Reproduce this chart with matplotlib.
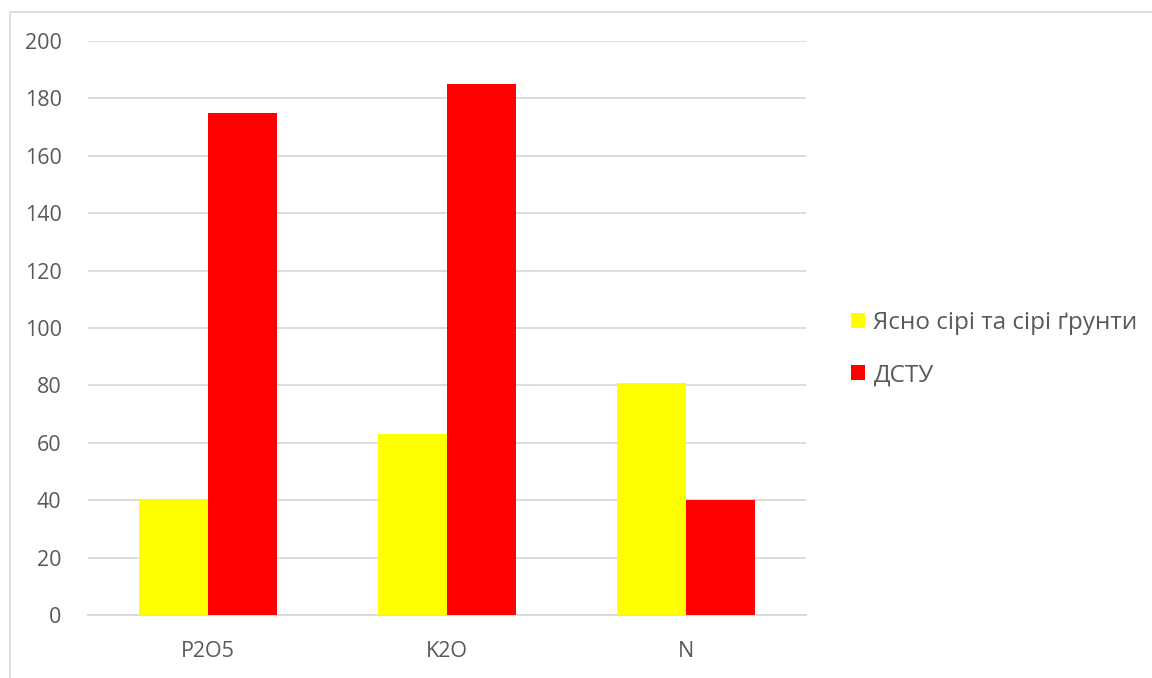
import matplotlib

matplotlib.use("Agg")
import matplotlib.pyplot as plt
import numpy as np
from matplotlib.lines import Line2D

plt.rcParams["font.family"] = ["Open Sans", "DejaVu Sans"]

categories = ["P2O5", "K2O", "N"]
soil_values = [40, 63, 81]
dstu_values = [175, 185, 40]
series_names = ["Ясно сірі та сірі ґрунти", "ДСТУ"]
y_ticks = [0, 20, 40, 60, 80, 100, 120, 140, 160, 180, 200]

TEXT = "#595959"
GRID = "#d9d9d9"

fig = plt.figure(figsize=(11.52, 6.78), dpi=100)
ax = fig.add_axes([0.0764, 0.0929, 0.6233, 0.8466])

x = np.arange(len(categories))
w = 0.288
ax.bar(x - w / 2, soil_values, w, color="#ffff00", label=series_names[0], zorder=3)
ax.bar(x + w / 2, dstu_values, w, color="#ff0000", label=series_names[1], zorder=3)

ax.set_xlim(-0.5, len(categories) - 0.5)
ax.set_ylim(0, 200)
ax.set_yticks(y_ticks)
ax.set_xticks(x)
ax.set_xticklabels(categories)
ax.yaxis.grid(True, color=GRID, linewidth=1.3, zorder=0)
ax.tick_params(axis="both", length=0, labelsize=15.5, colors=TEXT)
ax.tick_params(axis="y", pad=19)
ax.tick_params(axis="x", pad=19)
for s in ["top", "right", "left"]:
    ax.spines[s].set_visible(False)
ax.spines["bottom"].set_color(GRID)
ax.spines["bottom"].set_linewidth(1.3)

leg = fig.legend(
    loc="center left",
    bbox_to_anchor=(0.728, 0.485),
    frameon=False,
    fontsize=17.5,
    borderpad=0,
    handlelength=0.58,
    handleheight=0.58,
    handletextpad=0.35,
    labelspacing=1.15,
    labelcolor=TEXT,
)

# outer chart border (only left and top visible in the crop)
fig.add_artist(Line2D([10 / 1152, 10 / 1152], [0, 1 - 12 / 678], transform=fig.transFigure, color=GRID, lw=1.2))
fig.add_artist(Line2D([10 / 1152, 1], [1 - 12 / 678, 1 - 12 / 678], transform=fig.transFigure, color=GRID, lw=1.2))

fig.savefig("out.png", dpi=100)
plt.close()
